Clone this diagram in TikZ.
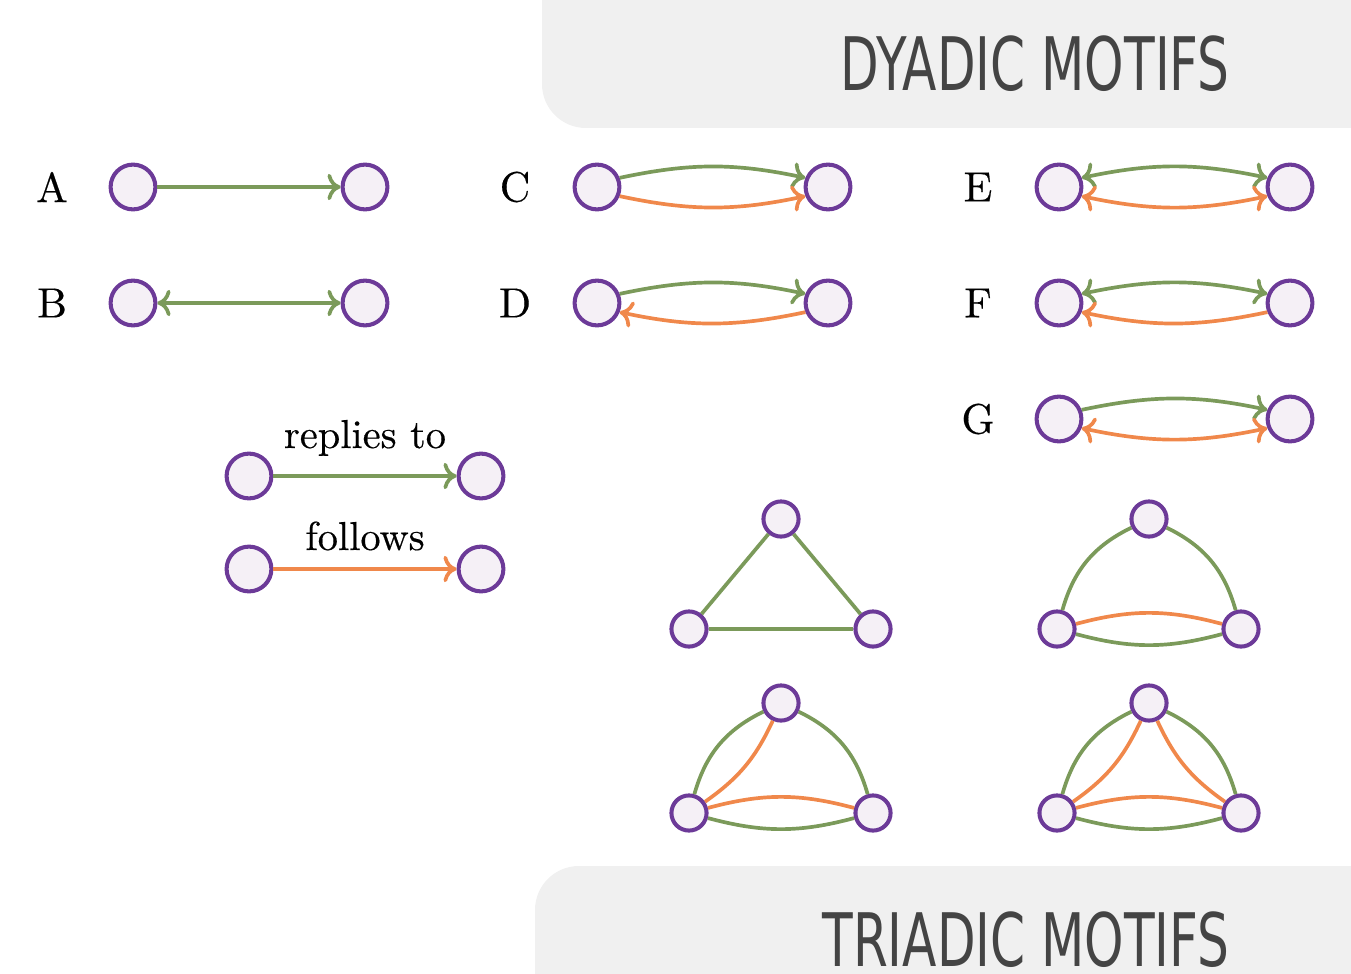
\documentclass[tikz,border=0pt]{standalone}
\usepackage{fontspec}
\usetikzlibrary{arrows.meta}
\newfontfamily\headfont[FakeStretch=0.68]{DejaVu Sans}
\newfontfamily\labelfont[FakeBold=0.4]{lmroman10-regular.otf}
\definecolor{vpurple}{HTML}{6C3A98}
\definecolor{vfill}{HTML}{F5F0F6}
\definecolor{rgreen}{HTML}{7B9A5A}
\definecolor{forange}{HTML}{F0884B}
\definecolor{boxgray}{HTML}{F0F0F0}
\definecolor{headgray}{HTML}{444444}
\begin{document}
\begin{tikzpicture}[x=0.02cm,y=0.02cm,
  vtx/.style={circle,draw=vpurple,fill=vfill,line width=2.3pt,minimum size=25.5pt,inner sep=0pt},
  svtx/.style={vtx,minimum size=20pt},
  rep/.style={draw=rgreen,line width=2.1pt},
  fol/.style={draw=forange,line width=2.1pt},
  >={To[length=7.5pt,width=15pt,round]},
  lbl/.style={font=\labelfont\fontsize{24}{28}\selectfont,inner sep=0pt},
  legtext/.style={font=\labelfont\fontsize{23}{26}\selectfont,inner sep=0pt,anchor=base},
  headtext/.style={font=\headfont\fontsize{42}{46}\selectfont,text=headgray,inner sep=0pt,anchor=base},
  headbox/.style={fill=boxgray,rounded corners=25}]
\useasboundingbox (0,0) rectangle (1351,-973);
\clip (0,0) rectangle (1351,-973);

% section banners
\path[headbox] (542,-128) rectangle (1420,60);
\node[headtext] (dyh) at (1035,-91) {DYADIC MOTIFS};
\path[headbox] (535,-866) rectangle (1420,-1100);
\node[headtext] (trh) at (1026,-966) {TRIADIC MOTIFS};

% dyadic motif labels
\node[lbl] (la) at (52,-187) {A};
\node[lbl] (lb) at (52,-303) {B};
\node[lbl] (lc) at (515,-187) {C};
\node[lbl] (ld) at (515,-303) {D};
\node[lbl] (le) at (978,-187) {E};
\node[lbl] (lf) at (978,-303) {F};
\node[lbl] (lg) at (978,-419) {G};

% dyadic vertices
\node[vtx] (a1) at (133,-187) {};
\node[vtx] (a2) at (365,-187) {};
\node[vtx] (b1) at (133,-303) {};
\node[vtx] (b2) at (365,-303) {};
\node[vtx] (c1) at (597,-187) {};
\node[vtx] (c2) at (828,-187) {};
\node[vtx] (d1) at (597,-303) {};
\node[vtx] (d2) at (828,-303) {};
\node[vtx] (e1) at (1059,-187) {};
\node[vtx] (e2) at (1290,-187) {};
\node[vtx] (f1) at (1059,-303) {};
\node[vtx] (f2) at (1290,-303) {};
\node[vtx] (g1) at (1059,-419) {};
\node[vtx] (g2) at (1290,-419) {};

% dyadic edges
\draw[rep,->] (a1) -- (a2);
\draw[rep,<->] (b1) -- (b2);
\draw[rep,->] (c1.22) to[bend left=12] (c2.158);
\draw[fol,->] (c1.-22) to[bend right=12] (c2.-158);
\draw[rep,->] (d1.22) to[bend left=12] (d2.158);
\draw[fol,<-] (d1.-22) to[bend right=12] (d2.-158);
\draw[rep,<->] (e1.22) to[bend left=12] (e2.158);
\draw[fol,<->] (e1.-22) to[bend right=12] (e2.-158);
\draw[rep,<->] (f1.22) to[bend left=12] (f2.158);
\draw[fol,<-] (f1.-22) to[bend right=12] (f2.-158);
\draw[rep,->] (g1.22) to[bend left=12] (g2.158);
\draw[fol,<->] (g1.-22) to[bend right=12] (g2.-158);

% legend
\node[vtx] (l1) at (249,-476) {};
\node[vtx] (l2) at (481,-476) {};
\node[vtx] (m1) at (249,-569) {};
\node[vtx] (m2) at (481,-569) {};
\node[legtext] (lrep) at (365,-448) {replies to};
\node[legtext] (lfol) at (365,-550) {follows};
\draw[rep,->] (l1) -- (l2);
\draw[fol,->] (m1) -- (m2);

% triadic vertices
\node[svtx] (t1a) at (781,-519) {};
\node[svtx] (t1b) at (689,-629) {};
\node[svtx] (t1c) at (873,-629) {};
\node[svtx] (t2a) at (1149,-519) {};
\node[svtx] (t2b) at (1057,-629) {};
\node[svtx] (t2c) at (1241,-629) {};
\node[svtx] (t3a) at (781,-703) {};
\node[svtx] (t3b) at (689,-813) {};
\node[svtx] (t3c) at (873,-813) {};
\node[svtx] (t4a) at (1149,-703) {};
\node[svtx] (t4b) at (1057,-813) {};
\node[svtx] (t4c) at (1241,-813) {};

% triadic edges
\draw[rep] (t1b) -- (t1a);
\draw[rep] (t1a) -- (t1c);
\draw[rep] (t1b) -- (t1c);

\draw[rep] (t2b) to[bend left=24] (t2a);
\draw[rep] (t2a) to[bend left=24] (t2c);
\draw[fol] (t2b) to[bend left=15] (t2c);
\draw[rep] (t2b) to[bend right=15] (t2c);

\draw[rep] (t3b) to[bend left=24] (t3a);
\draw[fol] (t3b) to[bend right=15] (t3a);
\draw[rep] (t3a) to[bend left=24] (t3c);
\draw[fol] (t3b) to[bend left=15] (t3c);
\draw[rep] (t3b) to[bend right=15] (t3c);

\draw[rep] (t4b) to[bend left=24] (t4a);
\draw[fol] (t4b) to[bend right=15] (t4a);
\draw[rep] (t4a) to[bend left=24] (t4c);
\draw[fol] (t4a) to[bend right=15] (t4c);
\draw[fol] (t4b) to[bend left=15] (t4c);
\draw[rep] (t4b) to[bend right=15] (t4c);
\end{tikzpicture}
\end{document}
